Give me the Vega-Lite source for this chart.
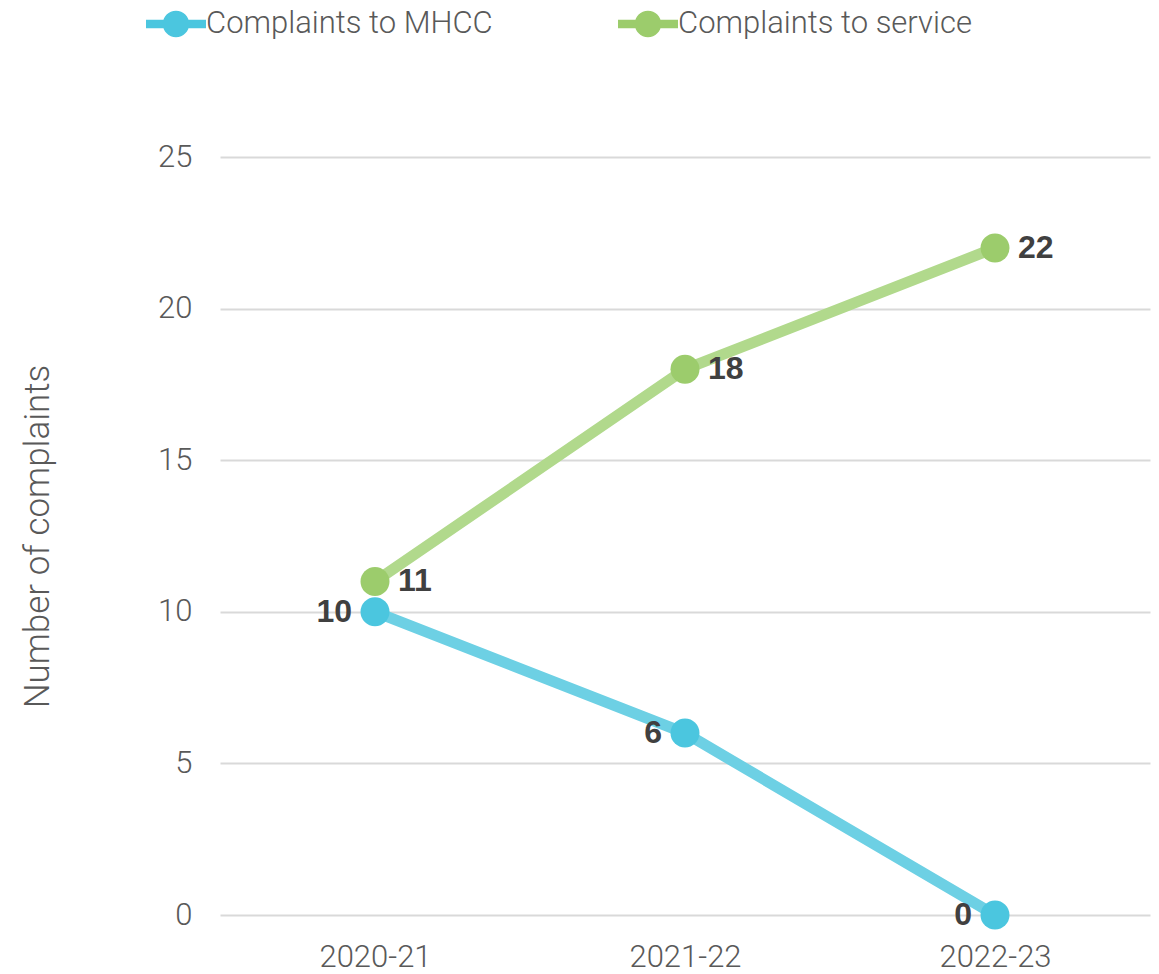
{
  "$schema": "https://vega.github.io/schema/vega-lite/v6.json",
  "width": 930,
  "height": 758,
  "autosize": {"type": "none"},
  "padding": {"left": 220, "top": 157, "right": 9, "bottom": 59},
  "background": "white",
  "config": {
    "view": {"stroke": null},
    "font": "Roboto",
    "axis": {"labelFont": "Roboto", "titleFont": "Roboto"}
  },
  "data": {
    "values": [
      {"year": "2020-21", "series": "Complaints to MHCC", "value": 10},
      {"year": "2021-22", "series": "Complaints to MHCC", "value": 6},
      {"year": "2022-23", "series": "Complaints to MHCC", "value": 0},
      {"year": "2020-21", "series": "Complaints to service", "value": 11},
      {"year": "2021-22", "series": "Complaints to service", "value": 18},
      {"year": "2022-23", "series": "Complaints to service", "value": 22}
    ]
  },
  "encoding": {
    "x": {
      "field": "year", "type": "ordinal",
      "scale": {"type": "point", "padding": 0.5},
      "axis": {"title": null, "domain": false, "ticks": false, "labelAngle": 0, "labelFontSize": 31, "labelFontWeight": 300, "labelColor": "#595959", "labelPadding": 27, "grid": false}
    },
    "y": {
      "field": "value", "type": "quantitative",
      "scale": {"domain": [0, 25], "nice": false},
      "axis": {"title": "Number of complaints", "values": [0, 5, 10, 15, 20, 25], "domain": false, "ticks": false, "grid": true, "gridColor": "#d9d9d9", "gridWidth": 2, "labelFontSize": 31, "labelFontWeight": 300, "labelColor": "#595959", "labelPadding": 28, "titleFontSize": 35, "titleFontWeight": 300, "titleColor": "#595959", "titlePadding": 102}
    }
  },
  "layer": [
    {
      "mark": {"type": "line", "strokeWidth": 11},
      "encoding": {
        "color": {"field": "series", "type": "nominal", "legend": null,
          "scale": {"domain": ["Complaints to service", "Complaints to MHCC"], "range": ["#b1d98c", "#6dd0e4"]}},
        "order": {"field": "year"}
      }
    },
    {
      "mark": {"type": "point", "filled": true, "opacity": 1, "size": 840},
      "encoding": {
        "color": {"field": "series", "type": "nominal",
          "scale": {"domain": ["Complaints to MHCC", "Complaints to service"], "range": ["#4bc6df", "#9ccc6c"]},
          "legend": {
            "title": null, "orient": "none", "direction": "horizontal",
            "legendX": -74, "legendY": -163,
            "symbolType": "M-1,-0.14 H1 V0.14 H-1 Z M-0.44,0 A0.44,0.44 0 1,1 0.44,0 A0.44,0.44 0 1,1 -0.44,0 Z",
            "symbolSize": 3600, "symbolStrokeWidth": 0, "symbolOpacity": 1,
            "labelFontSize": 31, "labelFontWeight": 300, "labelColor": "#595959", "labelFont": "Roboto",
            "labelOffset": 0, "columnPadding": 125, "labelLimit": 450
          }
        }
      }
    },
    {
      "transform": [{"filter": "datum.series === 'Complaints to MHCC'"}],
      "mark": {"type": "text", "align": "right", "baseline": "middle", "dx": -23, "fontSize": 32, "fontWeight": "bold", "color": "#404040", "font": "Liberation Sans"},
      "encoding": {"text": {"field": "value", "type": "quantitative"}}
    },
    {
      "transform": [{"filter": "datum.series === 'Complaints to service'"}],
      "mark": {"type": "text", "align": "left", "baseline": "middle", "dx": 23, "fontSize": 32, "fontWeight": "bold", "color": "#404040", "font": "Liberation Sans"},
      "encoding": {"text": {"field": "value", "type": "quantitative"}}
    }
  ],
  "resolve": {"scale": {"color": "independent"}}
}
